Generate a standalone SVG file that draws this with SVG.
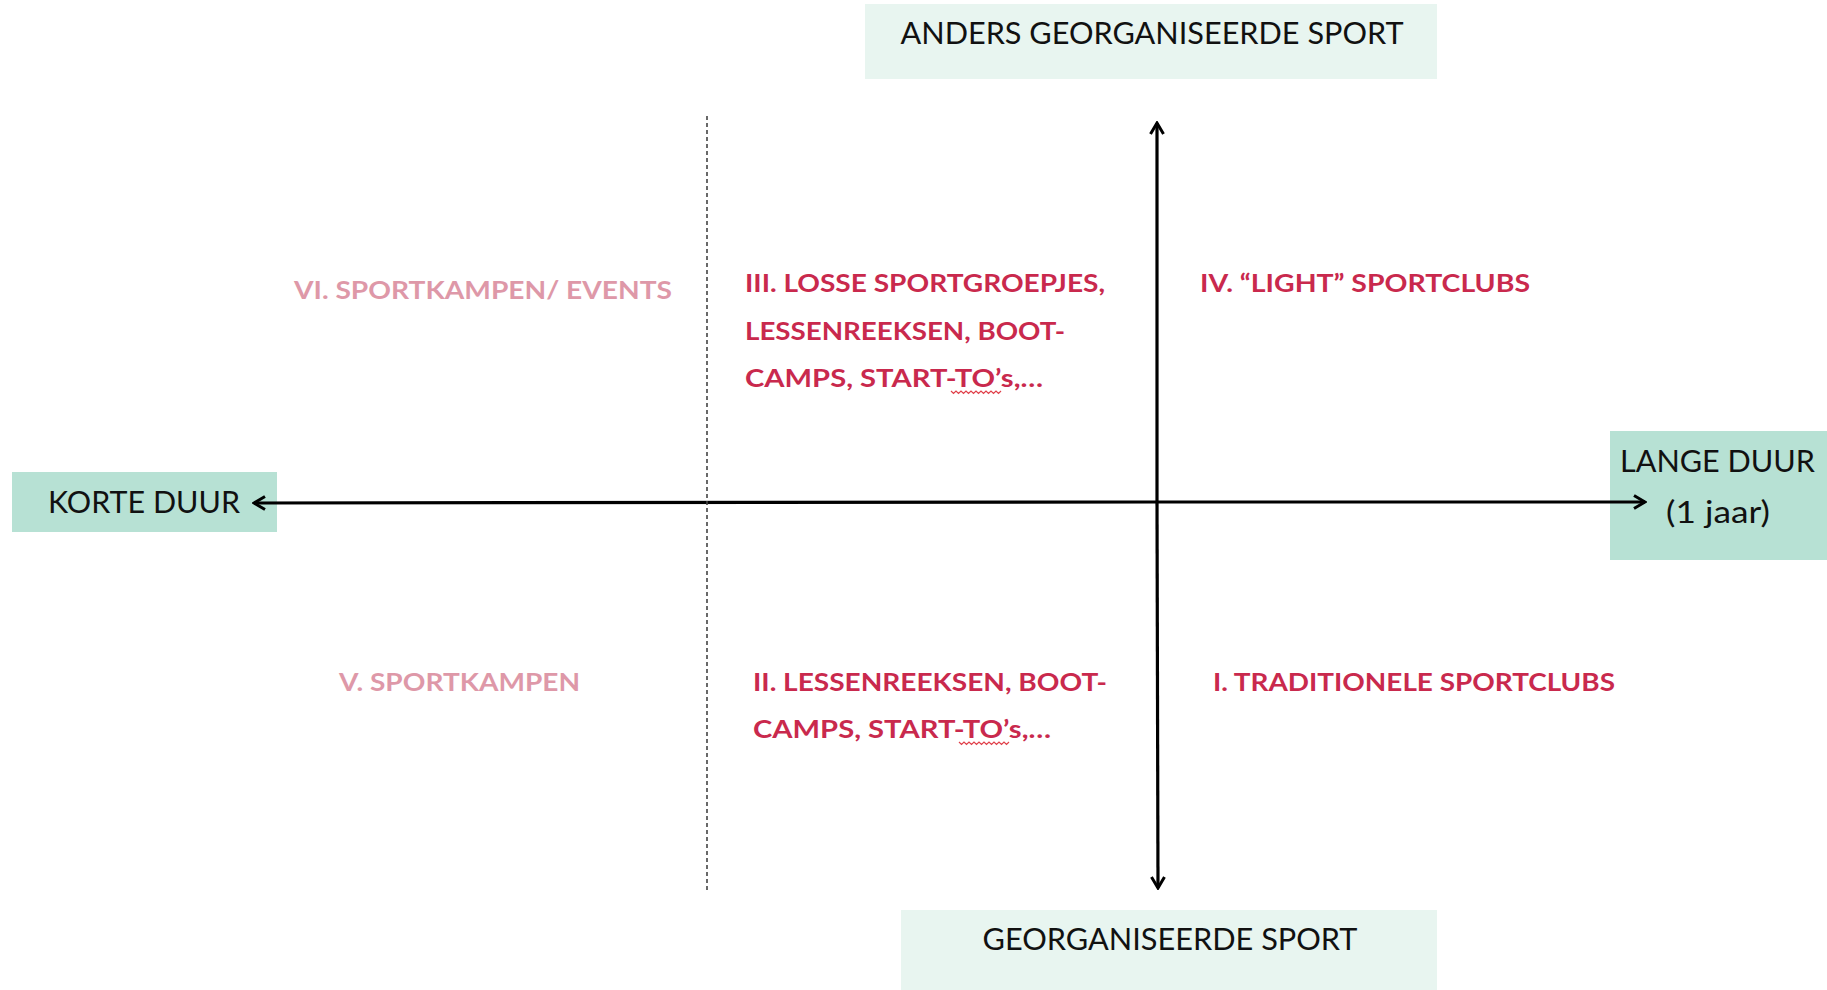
<svg xmlns="http://www.w3.org/2000/svg" width="1827" height="990" viewBox="0 0 1827 990">
<style>
.axis{font-family:Lato,"Open Sans",sans-serif;font-size:30px;fill:#111}
.q{font-family:Lato,"Open Sans",sans-serif;font-size:25px;font-weight:bold;fill:#C9294D}
.qp{font-family:Lato,"Open Sans",sans-serif;font-size:25px;font-weight:bold;fill:#DE98A8}
.light{fill:#E8F5F0}
.mid{fill:#B7E1D4}
.ln{stroke:#000;stroke-width:3.2;fill:none}
.sq{stroke:#E0404A;stroke-width:1.2;fill:none}
</style>
<defs>
<marker id="ah" viewBox="0 0 16 16" refX="14" refY="8" markerWidth="16" markerHeight="16" markerUnits="userSpaceOnUse" orient="auto">
<path d="M3,1.5 L14,8 L3,14.5" fill="none" stroke="#000" stroke-width="3"/>
</marker>
</defs>
<rect width="1827" height="990" fill="#fff"/>
<g id="top-node"><rect class="light" x="865" y="4" width="572" height="75"/><text class="axis" x="1152" y="44" text-anchor="middle" textLength="503" lengthAdjust="spacingAndGlyphs">ANDERS GEORGANISEERDE SPORT</text></g>
<g id="bottom-node"><rect class="light" x="901" y="910" width="536" height="80"/><text class="axis" x="1170" y="950" text-anchor="middle" textLength="375" lengthAdjust="spacingAndGlyphs">GEORGANISEERDE SPORT</text></g>
<g id="left-node"><rect class="mid" x="12" y="472" width="265" height="60"/><text class="axis" x="48" y="513" textLength="192" lengthAdjust="spacingAndGlyphs">KORTE DUUR</text></g>
<g id="right-node"><rect class="mid" x="1610" y="431" width="217" height="129"/><text class="axis" x="1620" y="472" textLength="195" lengthAdjust="spacingAndGlyphs">LANGE DUUR</text><text class="axis" x="1666" y="523" textLength="104" lengthAdjust="spacingAndGlyphs">(1 jaar)</text></g>
<g id="connectors">
<line class="ln" x1="1157" y1="502" x2="254" y2="503" marker-end="url(#ah)"/>
<line class="ln" x1="1157" y1="502" x2="1645" y2="502" marker-end="url(#ah)"/>
<line class="ln" x1="1157" y1="502" x2="1157" y2="123" marker-end="url(#ah)"/>
<line class="ln" x1="1157" y1="502" x2="1158" y2="888" marker-end="url(#ah)"/>
<line x1="707" y1="116" x2="707" y2="891" stroke="#444" stroke-width="1.6" stroke-dasharray="4,3"/>
</g>
<g id="q6"><text class="qp" x="294" y="299" textLength="378" lengthAdjust="spacingAndGlyphs">VI. SPORTKAMPEN/ EVENTS</text></g>
<g id="q3"><text class="q" x="745" y="292" textLength="360" lengthAdjust="spacingAndGlyphs">III. LOSSE SPORTGROEPJES,</text><text class="q" x="745" y="340" textLength="320" lengthAdjust="spacingAndGlyphs">LESSENREEKSEN, BOOT-</text><text class="q" x="745" y="387" textLength="298" lengthAdjust="spacingAndGlyphs">CAMPS, START-TO’s,…</text><path class="sq" d="M951,391 l2.5,2.5 l2.5,-2.5 l2.5,2.5 l2.5,-2.5 l2.5,2.5 l2.5,-2.5 l2.5,2.5 l2.5,-2.5 l2.5,2.5 l2.5,-2.5 l2.5,2.5 l2.5,-2.5 l2.5,2.5 l2.5,-2.5 l2.5,2.5 l2.5,-2.5 l2.5,2.5 l2.5,-2.5 l2.5,2.5 l2.5,-2.5"/></g>
<g id="q4"><text class="q" x="1200" y="292" textLength="330" lengthAdjust="spacingAndGlyphs">IV. “LIGHT” SPORTCLUBS</text></g>
<g id="q5"><text class="qp" x="339" y="691" textLength="241" lengthAdjust="spacingAndGlyphs">V. SPORTKAMPEN</text></g>
<g id="q2"><text class="q" x="753" y="691" textLength="354" lengthAdjust="spacingAndGlyphs">II. LESSENREEKSEN, BOOT-</text><text class="q" x="753" y="738" textLength="298" lengthAdjust="spacingAndGlyphs">CAMPS, START-TO’s,…</text><path class="sq" d="M959,742 l2.5,2.5 l2.5,-2.5 l2.5,2.5 l2.5,-2.5 l2.5,2.5 l2.5,-2.5 l2.5,2.5 l2.5,-2.5 l2.5,2.5 l2.5,-2.5 l2.5,2.5 l2.5,-2.5 l2.5,2.5 l2.5,-2.5 l2.5,2.5 l2.5,-2.5 l2.5,2.5 l2.5,-2.5 l2.5,2.5 l2.5,-2.5"/></g>
<g id="q1"><text class="q" x="1213" y="691" textLength="402" lengthAdjust="spacingAndGlyphs">I. TRADITIONELE SPORTCLUBS</text></g>
</svg>
